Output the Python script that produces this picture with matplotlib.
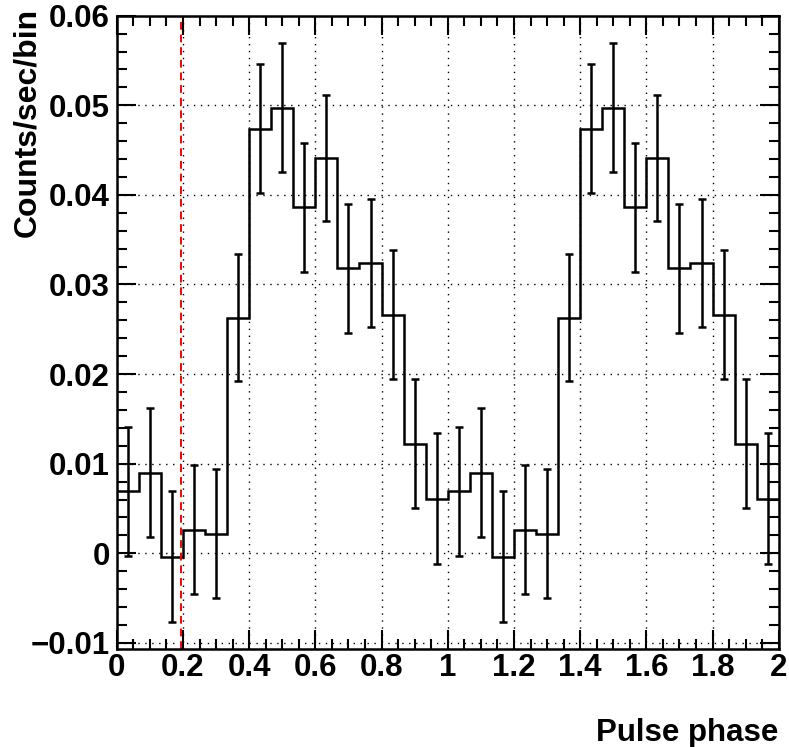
import matplotlib.pyplot as plt
import numpy as np
from matplotlib.ticker import MultipleLocator

plt.rcParams["font.family"] = ["Liberation Sans", "DejaVu Sans"]
plt.rcParams["font.weight"] = "bold"

# one pulse cycle, 15 phase bins, shown twice
counts = [0.0069, 0.0090, -0.0004, 0.0026, 0.0022, 0.0263, 0.0474, 0.0497,
          0.0386, 0.0441, 0.0318, 0.0324, 0.0266, 0.0122, 0.0061]
errors = [0.0072, 0.0072, 0.0073, 0.0072, 0.0072, 0.0071, 0.0072, 0.0072,
          0.0072, 0.0070, 0.0072, 0.0071, 0.0072, 0.0072, 0.0073]
n_cycles = 2
marker_phase = 0.195

values = np.tile(counts, n_cycles)
errs = np.tile(errors, n_cycles)
edges = np.linspace(0, n_cycles, len(values) + 1)
centers = 0.5 * (edges[:-1] + edges[1:])

fig = plt.figure(figsize=(7.89, 7.47), dpi=100)
ax = fig.add_axes([0.148, 0.131, 0.839, 0.848])

ax.stairs(values, edges, baseline=None, color="black", linewidth=1.8)
ax.errorbar(centers, values, yerr=errs, fmt="none", ecolor="black",
            elinewidth=1.8, capsize=3, capthick=1.8)
ax.axvline(marker_phase, color="red", linestyle=(0, (4, 2.5)), linewidth=1.4)

ax.set_xlim(0, 2)
ax.set_ylim(-0.0107, 0.06)
ax.xaxis.set_minor_locator(MultipleLocator(0.05))
ax.yaxis.set_minor_locator(MultipleLocator(0.002))
ax.set_xticks(np.arange(0, 2.01, 0.2))
ax.set_xticklabels(["0", "0.2", "0.4", "0.6", "0.8", "1", "1.2", "1.4", "1.6", "1.8", "2"])
ax.set_yticks(np.arange(-0.01, 0.061, 0.01))
ax.set_yticklabels(["\u22120.01", "0", "0.01", "0.02", "0.03", "0.04", "0.05", "0.06"])

ax.tick_params(which="both", direction="in", top=True, right=True, width=1.5,
               labelsize=22.5)
ax.tick_params(axis="x", pad=3)
ax.tick_params(axis="y", pad=5)
ax.tick_params(which="major", length=14)
ax.tick_params(which="minor", length=7)
for spine in ax.spines.values():
    spine.set_linewidth(1.8)
ax.grid(which="major", color="black", linestyle=(0, (1, 4)), linewidth=1.0)

ax.set_ylabel("Counts/sec/bin", fontsize=23, fontweight="bold", loc="top")
ax.yaxis.set_label_coords(-0.113, 1.012)
ax.set_xlabel("Pulse phase", fontsize=22.5, fontweight="bold", loc="right")
ax.xaxis.set_label_coords(1.0, -0.109)

fig.savefig("out.png", dpi=100)
